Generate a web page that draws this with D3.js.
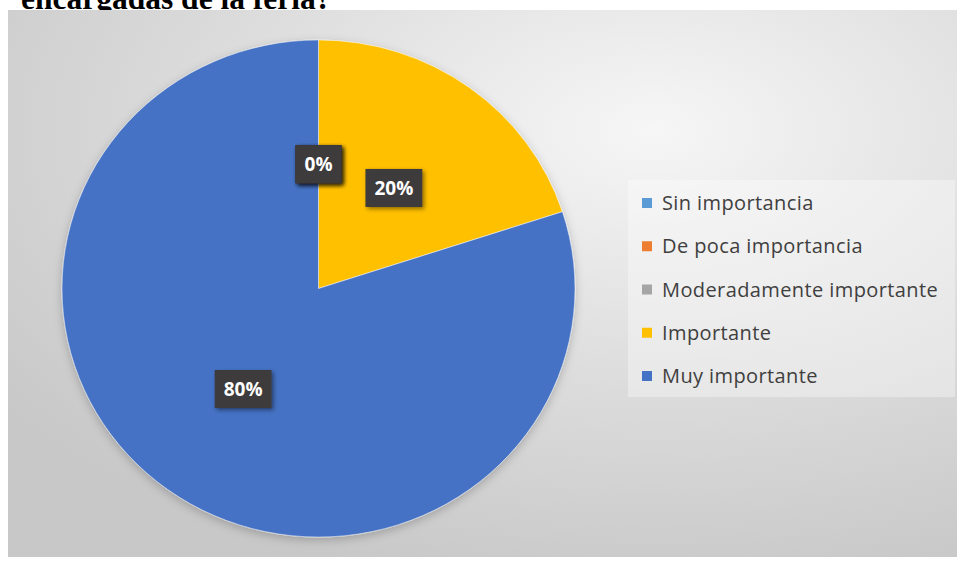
<!DOCTYPE html>
<html>
<head>
<meta charset="utf-8">
<script src="https://cdn.jsdelivr.net/npm/d3@7"></script>
<style>
  html, body { margin: 0; padding: 0; background: #ffffff; }
  svg { display: block; }
</style>
</head>
<body>
<svg id="chart" width="957" height="562"></svg>
<script>
// Survey answers and their shares (percent)
const categories = ["Sin importancia", "De poca importancia", "Moderadamente importante", "Importante", "Muy importante"];
const values = [0, 0, 0, 20, 80];
const colors = ["#5B9BD5", "#ED7D31", "#A5A5A5", "#FFC000", "#4472C4"];
const titleText = "encargadas de la feria?";

const svg = d3.select("#chart");
const W = 957, H = 562;

const defs = svg.append("defs");
const bg = defs.append("radialGradient")
  .attr("id", "bg").attr("cx", "68%").attr("cy", "22%").attr("r", "85%");
bg.append("stop").attr("offset", "0%").attr("stop-color", "#f6f6f6");
bg.append("stop").attr("offset", "55%").attr("stop-color", "#dcdcdc");
bg.append("stop").attr("offset", "100%").attr("stop-color", "#c8c8c8");

const pieShadow = defs.append("filter").attr("id", "pieShadow")
  .attr("x", "-10%").attr("y", "-10%").attr("width", "120%").attr("height", "125%");
pieShadow.append("feDropShadow").attr("dx", 0).attr("dy", 3).attr("stdDeviation", 5)
  .attr("flood-color", "#000").attr("flood-opacity", 0.22);

const boxShadow = defs.append("filter").attr("id", "boxShadow")
  .attr("x", "-20%").attr("y", "-20%").attr("width", "150%").attr("height", "160%");
boxShadow.append("feDropShadow").attr("dx", 2).attr("dy", 2).attr("stdDeviation", 2)
  .attr("flood-color", "#000").attr("flood-opacity", 0.45);

// Heading line above the chart (its upper part runs past the top of the page)
svg.append("text")
  .attr("x", 21).attr("y", 9)
  .attr("font-family", "'Liberation Serif', 'Times New Roman', serif")
  .attr("font-weight", "bold")
  .attr("font-size", 31.5)
  .attr("fill", "#000")
  .text(titleText);

// Chart area
svg.append("rect")
  .attr("x", 8).attr("y", 10).attr("width", W - 8).attr("height", 547)
  .attr("fill", "url(#bg)");

// Pie
const cx = 318.5, cy = 288.5, r = 256.5, yScale = 0.969;
const pie = d3.pie().sort(null).value(d => d.value);
const data = categories.map((c, i) => ({ name: c, value: values[i], color: colors[i] }));
const arcs = pie(data);
const arc = d3.arc().innerRadius(0).outerRadius(r);
const labelArc = d3.arc().innerRadius(r * 0.5).outerRadius(r * 0.5);

const pieG = svg.append("g")
  .attr("transform", `translate(${cx},${cy}) scale(1,${yScale})`)
  .attr("filter", "url(#pieShadow)");
pieG.selectAll("path")
  .data(arcs)
  .join("path")
  .attr("d", arc)
  .attr("fill", d => d.data.color)
  .attr("stroke", "#ffffff")
  .attr("stroke-width", d => d.data.value > 0 ? 0.5 : 0);

// Data labels in dark boxes
const lblG = svg.append("g");
arcs.forEach(d => {
  const [lx, ly] = labelArc.centroid(d);
  const x = cx + lx, y = cy + ly * yScale;
  const g = lblG.append("g").attr("transform", `translate(${x},${y})`);
  const txt = d.data.value + "%";
  const t = g.append("text")
    .attr("text-anchor", "middle").attr("dy", "0.35em")
    .attr("font-family", "'Open Sans', sans-serif")
    .attr("font-weight", "bold").attr("font-size", 19)
    .attr("fill", "#ffffff").text(txt);
  const bb = t.node().getBBox();
  g.insert("rect", "text")
    .attr("x", bb.x - 9).attr("y", -19)
    .attr("width", bb.width + 18).attr("height", 38)
    .attr("fill", "#3d3b3a")
    .attr("filter", "url(#boxShadow)");
});

// Legend
const legend = svg.append("g");
legend.append("rect")
  .attr("x", 628).attr("y", 180).attr("width", 327).attr("height", 217)
  .attr("fill", "#ffffff").attr("fill-opacity", 0.35);
const legendY = d3.scalePoint().domain(categories).range([203, 376]);
const items = legend.selectAll("g.item")
  .data(data)
  .join("g")
  .attr("class", "item")
  .attr("transform", d => `translate(642,${legendY(d.name)})`);
items.append("rect")
  .attr("x", 0).attr("y", -5).attr("width", 10).attr("height", 10)
  .attr("fill", d => d.color);
items.append("text")
  .attr("x", 20).attr("dy", "0.35em")
  .attr("font-family", "'Open Sans', sans-serif")
  .attr("font-size", 20)
  .attr("letter-spacing", 0.4)
  .attr("fill", "#3f3f3f")
  .text(d => d.name);
</script>
</body>
</html>
